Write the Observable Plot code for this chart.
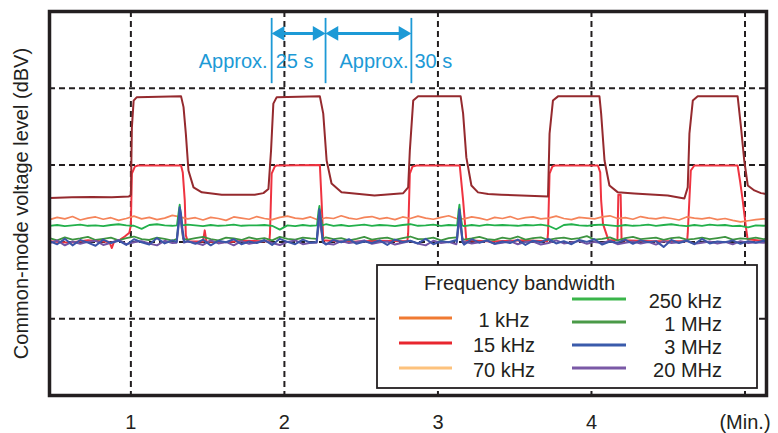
<!DOCTYPE html>
<html><head><meta charset="utf-8">
<script src="https://cdn.jsdelivr.net/npm/d3@7"></script>
<script src="https://cdn.jsdelivr.net/npm/@observablehq/plot@0.6"></script>
<style>
body{margin:0;background:#fff;}
#wrap{position:relative;width:778px;height:433px;}
#wrap svg{position:absolute;left:0;top:0;}
</style></head><body><div id="wrap"></div>
<script>
const FONT = '"Liberation Sans", Arial, Helvetica, sans-serif';
const INK = "#231f20";
const BLUE = "#1d9ad6";

// Axes
const xTicks = [1, 2, 3, 4, 5];
const xTickLabels = ["1", "2", "3", "4", "(Min.)"];
const yGrid = [-20, -40, -60, -80];
const yLabel = "Common-mode voltage level (dBV)";

// Pulsed traces (time in min, level in dBV)
const maroonPts = [[0.473,-48.6],[0.616,-48.4],[0.746,-48.3],[0.876,-48.4],[0.987,-48.2],[1.000,-47.7],[1.0065,-30.2],[1.018,-23.2],[1.039,-22.3],[1.327,-22.1],[1.343,-24.9],[1.358,-31.8],[1.375,-41.4],[1.408,-45.8],[1.462,-47.1],[1.592,-47.7],[1.807,-47.7],[1.863,-47.3],[1.896,-46.2],[1.913,-36.2],[1.928,-24.0],[1.950,-22.3],[2.231,-22.1],[2.253,-26.6],[2.275,-38.8],[2.307,-44.8],[2.372,-47.1],[2.587,-47.9],[2.774,-47.3],[2.806,-45.8],[2.817,-36.2],[2.839,-23.2],[2.871,-22.1],[3.148,-22.1],[3.164,-26.6],[3.185,-38.0],[3.218,-45.3],[3.261,-47.1],[3.327,-47.5],[3.413,-47.7],[3.717,-48.2],[3.727,-31.8],[3.749,-23.2],[3.782,-22.1],[4.052,-22.1],[4.063,-26.6],[4.085,-38.8],[4.117,-45.3],[4.172,-47.1],[4.278,-47.4],[4.497,-47.9],[4.605,-48.7],[4.627,-45.8],[4.638,-31.8],[4.660,-23.2],[4.692,-22.1],[4.952,-22.1],[4.974,-30.2],[4.995,-38.8],[5.018,-45.3],[5.061,-46.6],[5.104,-47.3],[5.136,-47.5]];

const redPts = [[0.473,-59.8],[0.60,-60.2],[0.72,-59.6],[0.86,-60.0],[0.876,-61.6],[0.89,-60.0],[0.93,-59.4],[0.96,-58.6],[0.99,-57.6],[1.000,-55.7],[1.0065,-42.2],[1.026,-40.4],[1.046,-40.1],[1.327,-40.1],[1.338,-41.9],[1.351,-49.2],[1.358,-58.3],[1.371,-59.9],[1.470,-59.9],[1.481,-57.0],[1.492,-59.9],[1.60,-60.1],[1.75,-59.7],[1.902,-59.9],[1.906,-57.8],[1.917,-42.2],[1.937,-40.4],[1.950,-40.1],[2.231,-40.0],[2.242,-49.2],[2.253,-59.6],[2.40,-60.0],[2.60,-59.7],[2.801,-59.8],[2.806,-57.8],[2.817,-42.2],[2.834,-40.4],[2.860,-40.1],[3.142,-40.1],[3.164,-49.2],[3.185,-59.6],[3.35,-59.9],[3.55,-59.6],[3.712,-59.8],[3.717,-57.8],[3.727,-42.2],[3.745,-40.4],[3.760,-40.1],[4.042,-40.1],[4.057,-41.9],[4.063,-49.2],[4.075,-55.3],[4.111,-59.6],[4.169,-59.6],[4.175,-47.7],[4.190,-47.7],[4.196,-59.6],[4.40,-59.8],[4.623,-59.8],[4.627,-57.8],[4.647,-41.4],[4.670,-40.1],[4.952,-40.1],[4.969,-44.5],[4.985,-49.2],[5.006,-56.2],[5.017,-59.3],[5.136,-59.8]];

// Noisy traces, sampled every 0.05 min from 0.47 min
const T0 = 0.47, STEP = 0.05;
const orangeVals = [
-54.2,-53.6,-54.0,-53.4,-54.3,-53.8,-53.5,-54.1,-53.7,-54.4,
-53.9,-53.3,-54.0,-53.6,-54.2,-53.8,-53.1,-53.5,-54.0,-53.7,
-54.3,-53.6,-53.9,-54.4,-53.5,-53.8,-54.1,-53.4,-53.9,-54.2,
-53.6,-53.3,-53.8,-54.0,-53.5,-54.3,-53.7,-53.9,-53.2,-53.8,
-54.1,-53.6,-53.4,-54.0,-53.7,-54.2,-53.5,-53.9,-53.3,-53.8,
-54.1,-53.6,-53.2,-53.9,-54.0,-53.5,-53.8,-54.3,-53.6,-53.9,
-53.4,-54.1,-53.7,-53.5,-54.0,-53.8,-53.3,-53.9,-54.2,-53.6,
-53.8,-54.0,-53.5,-53.2,-53.9,-53.7,-54.1,-53.4,-53.8,-54.0,
-53.6,-53.9,-54.3,-53.5,-53.8,-54.0,-53.7,-54.2,-53.9,-54.4,
-54.8,-54.5,-54.2,-54.0,-54.1];
const green250Vals = [
-55.8,-55.6,-55.9,-55.7,-55.5,-55.8,-55.7,-55.9,-55.6,-55.4,
-55.7,-55.8,-56.6,-55.6,-55.4,-55.7,-55.8,-55.6,-55.5,-55.7,
-55.9,-55.6,-55.8,-55.7,-55.5,-55.8,-55.7,-55.7,-55.6,-55.8,
-56.8,-55.7,-55.9,-55.6,-55.8,-55.7,-55.4,-55.8,-55.6,-55.9,
-55.7,-55.5,-55.8,-55.6,-55.7,-55.9,-55.6,-55.4,-55.8,-55.7,
-55.5,-55.8,-55.6,-55.7,-55.9,-55.6,-55.8,-55.5,-55.7,-55.6,
-55.7,-55.8,-55.6,-55.7,-55.5,-55.8,-56.7,-55.6,-55.4,-55.7,
-55.8,-55.6,-55.5,-55.7,-55.9,-55.6,-55.8,-55.7,-55.5,-55.8,
-55.6,-55.4,-55.7,-55.9,-55.6,-55.8,-55.5,-55.7,-55.6,-55.9,
-55.8,-56.2,-55.7,-55.8,-55.7];
const green1MVals = [
-59.0,-59.6,-58.8,-59.4,-59.1,-58.7,-59.5,-59.2,-58.9,-59.6,
-59.0,-58.6,-59.3,-59.5,-58.9,-59.2,-59.7,-58.8,-59.4,-59.0,
-58.7,-59.3,-59.6,-58.9,-59.1,-59.5,-58.8,-59.3,-59.0,-59.6,
-58.7,-59.2,-59.4,-58.9,-59.1,-59.5,-58.8,-59.3,-59.0,-59.6,
-59.2,-58.7,-59.4,-59.1,-58.9,-59.5,-59.0,-58.6,-59.3,-59.2,
-58.9,-59.6,-59.0,-58.8,-59.4,-59.1,-58.7,-59.3,-59.5,-58.9,
-59.2,-58.6,-59.4,-59.0,-58.8,-59.5,-59.1,-58.9,-59.3,-59.0,
-58.5,-59.4,-59.2,-58.8,-59.6,-59.0,-58.7,-59.3,-59.1,-58.9,
-59.5,-59.0,-58.8,-59.4,-59.2,-58.9,-59.3,-59.0,-58.7,-59.4,
-59.1,-59.2,-58.9,-59.3,-59.0];
const purpleVals = [
-60.4,-59.6,-60.9,-59.9,-60.5,-60.0,-59.7,-60.8,-60.2,-59.5,
-60.6,-60.1,-59.8,-60.4,-60.9,-59.7,-60.3,-60.7,-59.9,-60.2,
-60.8,-59.6,-60.4,-60.0,-60.9,-59.8,-60.5,-60.1,-59.7,-60.3,
-60.8,-60.0,-59.6,-60.6,-60.2,-59.9,-60.4,-60.7,-59.8,-60.3,
-60.0,-59.6,-60.5,-60.1,-59.9,-60.7,-60.2,-59.8,-60.4,-60.9,
-59.7,-60.3,-60.0,-60.6,-59.9,-60.4,-60.1,-59.7,-60.5,-60.2,
-59.8,-60.6,-60.0,-59.9,-60.7,-60.3,-59.6,-60.4,-60.1,-59.8,
-60.5,-60.0,-60.3,-59.7,-60.6,-60.2,-59.9,-60.4,-60.0,-60.7,
-59.8,-60.3,-60.1,-59.6,-60.5,-60.2,-59.9,-60.4,-60.0,-60.6,
-59.8,-60.3,-60.1,-60.2,-60.0];
const blueVals = [
-59.8,-60.6,-59.2,-60.9,-59.5,-60.2,-61.0,-59.4,-60.3,-59.7,
-60.8,-59.3,-60.1,-60.7,-59.0,-60.4,-59.6,-60.2,-59.8,-60.5,
-59.4,-60.9,-59.7,-60.1,-59.3,-60.6,-59.9,-60.3,-59.5,-60.8,
-59.2,-60.0,-60.6,-59.4,-60.2,-59.8,-60.7,-59.5,-60.1,-59.3,
-60.5,-59.9,-60.3,-59.6,-60.8,-59.4,-60.0,-59.7,-60.4,-59.2,
-60.6,-59.8,-60.1,-59.5,-60.7,-59.3,-60.2,-59.6,-60.5,-59.9,
-60.3,-59.4,-60.8,-59.7,-60.1,-59.2,-60.4,-59.8,-60.6,-59.5,
-60.0,-59.3,-60.7,-59.9,-60.2,-59.4,-60.5,-59.6,-60.1,-59.8,
-61.3,-59.5,-60.3,-59.7,-60.6,-59.2,-60.4,-59.9,-60.1,-59.6,
-60.5,-59.8,-60.2,-59.7,-60.0];

// Transient spikes (time, level) at each switching event
const green250Spikes = [
  [[1.300,-55.7],[1.312,-52.0],[1.318,-50.3],[1.326,-53.0],[1.336,-55.7]],
  [[2.212,-55.7],[2.222,-52.0],[2.228,-50.6],[2.236,-53.5],[2.246,-55.7]],
  [[3.125,-55.7],[3.134,-52.0],[3.140,-50.3],[3.147,-53.0],[3.158,-55.7]]];
const green1MSpikes = [
  [[1.300,-59.2],[1.312,-54.0],[1.319,-51.8],[1.328,-55.0],[1.340,-59.2]],
  [[2.212,-59.2],[2.222,-54.5],[2.229,-52.5],[2.238,-55.5],[2.250,-59.2]],
  [[3.125,-59.2],[3.134,-54.0],[3.141,-52.0],[3.149,-55.5],[3.160,-59.2]]];
const purpleSpikes = [
  [[1.298,-60.2],[1.312,-55.5],[1.320,-53.0],[1.330,-56.0],[1.346,-60.2]],
  [[2.210,-60.2],[2.222,-56.0],[2.229,-53.5],[2.238,-56.5],[2.252,-60.2]],
  [[3.122,-60.2],[3.134,-56.0],[3.141,-53.5],[3.149,-56.5],[3.162,-60.2]]];
const blueSpikes = [
  [[1.298,-60.0],[1.310,-55.0],[1.318,-51.0],[1.326,-52.5],[1.334,-56.0],[1.348,-60.0]],
  [[2.210,-60.0],[2.220,-55.0],[2.228,-51.5],[2.236,-54.0],[2.250,-60.0]],
  [[3.122,-60.0],[3.133,-55.0],[3.140,-51.5],[3.147,-54.0],[3.160,-60.0]]];

// Annotation
const bracketT = [1.917, 2.268, 2.827];
const annoLabelsEnd = [{t: 1.891, text: "Approx."}, {t: 2.808, text: "Approx."}];
const annoLabelsStart = [{t: 1.943, text: "25 s"}, {t: 2.847, text: "30 s"}];

// Legend
const legendNames = ["1 kHz", "15 kHz", "70 kHz", "250 kHz", "1 MHz", "3 MHz", "20 MHz"];
const legendColors = ["#f07a32", "#e8262e", "#fdc27c", "#3ab54a", "#4a9a48", "#3a5bab", "#7a59a6"];

// Trace colours as drawn
const C = {maroon: "#952a2e", red: "#ef3340", orange: "#f5845a", green250: "#22b04b",
           green1M: "#3d9440", purple: "#7355a5", blue: "#3b55a8"};

function noisy(vals, spikes) {
  const ranges = spikes.map(g => [g[0][0], g[g.length - 1][0]]);
  const pts = vals.map((v, i) => [T0 + STEP * i, v])
    .filter(([t]) => !ranges.some(([a, b]) => t >= a && t <= b));
  return pts.concat(spikes.flat()).sort((a, b) => a[0] - b[0]);
}
const asObj = pts => pts.map(([t, v]) => ({t, v}));

const traces = [
  {pts: redPts, color: C.red, w: 2},
  {pts: noisy(orangeVals, []), color: C.orange, w: 1.7},
  {pts: noisy(green250Vals, green250Spikes), color: C.green250, w: 1.8},
  {pts: noisy(green1MVals, green1MSpikes), color: C.green1M, w: 1.8},
  {pts: noisy(purpleVals, purpleSpikes), color: C.purple, w: 2},
  {pts: noisy(blueVals, blueSpikes), color: C.blue, w: 2},
  {pts: maroonPts, color: C.maroon, w: 2}
];

const intervals = d3.pairs(bracketT).map(([a, b]) => ({a, b}));
const headOff = 0.055;
const heads = intervals.flatMap(({a, b}) => [{t: a + headOff, r: -90}, {t: b - headOff, r: 90}]);
const shaftY = -5.7, textY = -13.0;

const plot = Plot.plot({
  width: 778, height: 433,
  marginLeft: 49, marginRight: 12, marginTop: 11, marginBottom: 38,
  x: {domain: [0.47, 5.14], label: null},
  y: {domain: [-100, 0], axis: null},
  style: {fontFamily: FONT, fontSize: "20px", color: INK, background: "white", overflow: "visible"},
  marks: [
    Plot.ruleY(yGrid, {stroke: INK, strokeWidth: 2, strokeDasharray: "6,4"}),
    Plot.ruleX(xTicks, {stroke: INK, strokeWidth: 2, strokeDasharray: "6,4"}),
    ...traces.map(tr => Plot.line(asObj(tr.pts), {x: "t", y: "v", stroke: tr.color, strokeWidth: tr.w, clip: true})),
    Plot.axisX({ticks: xTicks, tickSize: 0, tickPadding: 19, tickFormat: d => xTickLabels[xTicks.indexOf(d)], label: null, fill: INK}),
    Plot.text([yLabel], {frameAnchor: "left", dx: -28, rotate: -90, textAnchor: "middle", fontSize: 20, fill: INK}),
    // annotation brackets and arrows
    Plot.ruleX(bracketT, {y1: -1.8, y2: -18.8, stroke: BLUE, strokeWidth: 1.8}),
    Plot.link(intervals, {x1: d => d.a + 0.02, x2: d => d.b - 0.02, y1: shaftY, y2: shaftY, stroke: BLUE, strokeWidth: 3}),
    Plot.dot(heads, {x: "t", y: shaftY, r: 5.5, symbol: "triangle", rotate: "r", fill: BLUE, stroke: "none"}),
    Plot.text(annoLabelsEnd, {x: "t", y: textY, text: "text", textAnchor: "end", fill: BLUE, fontSize: 20}),
    Plot.text(annoLabelsStart, {x: "t", y: textY, text: "text", textAnchor: "start", fill: BLUE, fontSize: 20}),
    Plot.frame({stroke: INK, strokeWidth: 3.5})
  ]
});
const wrap = document.getElementById("wrap");
wrap.appendChild(plot);

// Legend overlay
const lg = d3.select(wrap).append("svg").attr("width", 778).attr("height", 433)
  .style("font-family", FONT).style("font-size", "20px").style("pointer-events", "none");
lg.append("rect").attr("x", 377).attr("y", 265).attr("width", 380).attr("height", 123)
  .attr("fill", "white").attr("stroke", INK).attr("stroke-width", 1.8);
lg.append("text").attr("x", 424).attr("y", 283).attr("dominant-baseline", "central").attr("fill", INK).text("Frequency bandwidth");
const leftY = [318, 343, 368], rightY = [299, 322, 345, 368];
legendNames.forEach((name, i) => {
  const left = i < 3;
  const y = left ? leftY[i] : rightY[i - 3];
  const x1 = left ? 399 : 572, x2 = left ? 452 : 626;
  lg.append("line").attr("x1", x1).attr("x2", x2).attr("y1", y).attr("y2", y)
    .attr("stroke", legendColors[i]).attr("stroke-width", 3);
  lg.append("text").attr("x", left ? 504 : 722).attr("y", y + 2)
    .attr("text-anchor", left ? "middle" : "end").attr("dominant-baseline", "central")
    .attr("fill", INK).text(name);
});
</script></body></html>
